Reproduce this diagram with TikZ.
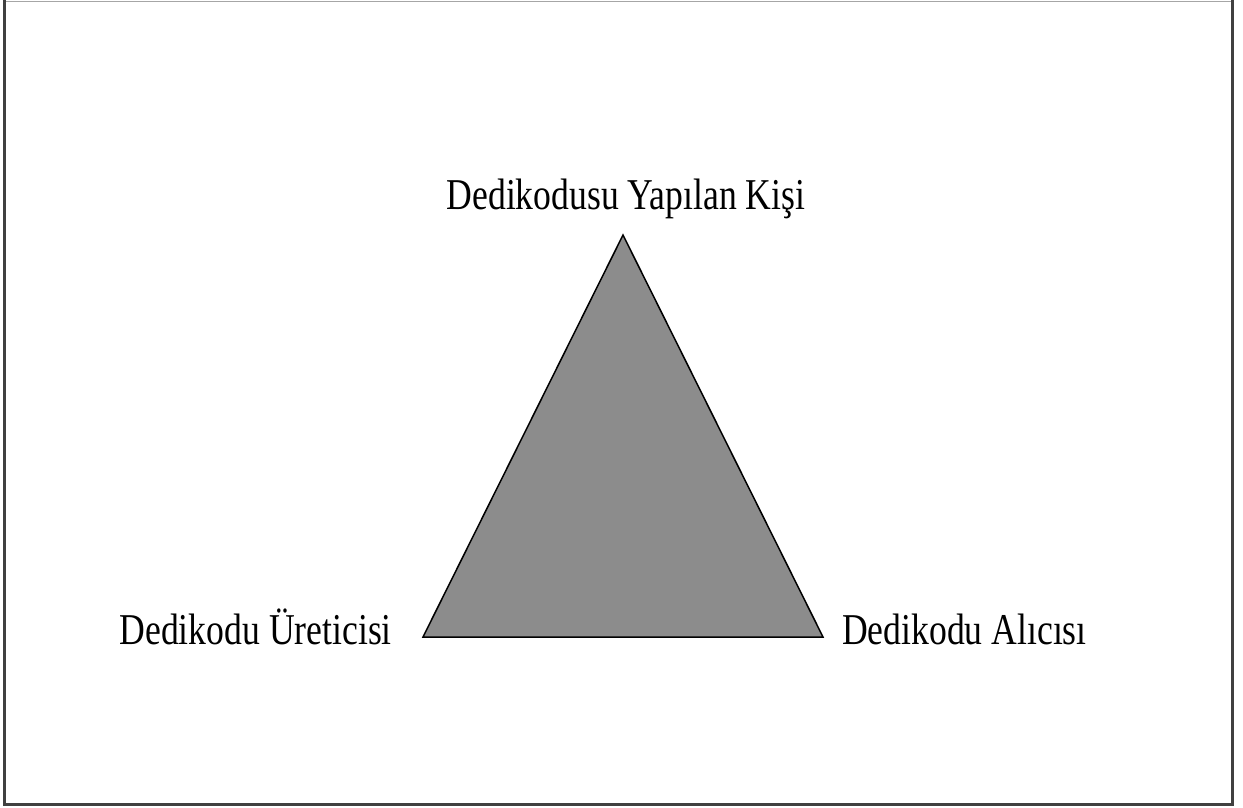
\documentclass[tikz,border=0pt]{standalone}
\usepackage{fontspec}
\setmainfont{Liberation Serif}
\newfontfamily\narrowserif[FakeStretch=0.81]{Liberation Serif}
\begin{document}
\begin{tikzpicture}[x=1pt,y=-1pt,
  frame/.style={draw=black!75,line width=3pt},
  tri/.style={draw=black,line width=1.5pt,fill=black!45},
  lbl/.style={inner sep=0pt,font=\narrowserif\fontsize{44}{48}\selectfont}]
\useasboundingbox (0,0) rectangle (1243,808);
% outer frame: light top edge, dark sides and bottom
\draw[draw=black!35,line width=1.5pt] (4,1.5) -- (1233,1.5);
\draw[frame] (4.5,0) -- (4.5,804.5) -- (1232.5,804.5) -- (1232.5,0);
\coordinate (apex) at (623,235);
\coordinate (bl) at (423,637);
\coordinate (br) at (823,637);
\filldraw[tri] (apex) -- (bl) -- (br) -- cycle;
\node[lbl,anchor=base] (top) at (626,209) {Dedikodusu Yapılan Kişi};
\node[lbl,anchor=base east] (left) at (392,644) {Dedikodu Üreticisi};
\node[lbl,anchor=base west] (right) at (842,644) {Dedikodu Alıcısı};
\end{tikzpicture}
\end{document}
